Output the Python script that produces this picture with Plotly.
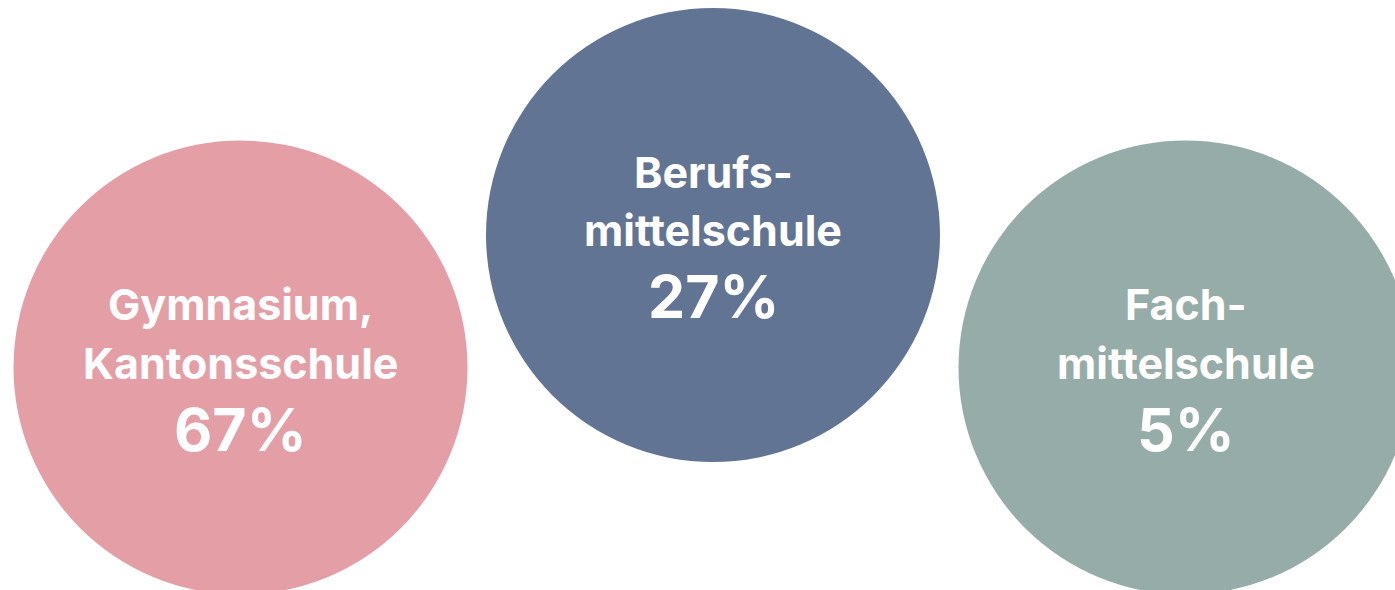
import plotly.graph_objects as go

# Data
line1 = ["Gymnasium,", "Berufs-", "Fach-"]
line2 = ["Kantonsschule", "mittelschule", "mittelschule"]
shares = [67, 27, 5]
colors = ["#E49FA6", "#627493", "#96ACA8"]

# Layout (pixel positions of circle centres)
idx = [0, 1, 2]
y_center = [367.5, 235, 367.5]
diam = 454

fig = go.Figure()
fig.add_trace(go.Scatter(
    x=idx, y=y_center, mode="markers",
    marker=dict(size=diam, color=colors, line=dict(width=0), opacity=1),
    hoverinfo="skip", showlegend=False,
))

FONT = "Inter"
for i in idx:
    fig.add_annotation(x=i, y=y_center[i] - 63.5, text=f"<b>{line1[i]}</b>",
                       showarrow=False, xanchor="center", yanchor="middle",
                       font=dict(family=FONT, size=43, color="white"))
    fig.add_annotation(x=i, y=y_center[i] - 5, text=f"<b>{line2[i]}</b>",
                       showarrow=False, xanchor="center", yanchor="middle",
                       font=dict(family=FONT, size=43, color="white"))
    fig.add_annotation(x=i, y=y_center[i] + 61.5, text=f"<b>{shares[i]}%</b>",
                       showarrow=False, xanchor="center", yanchor="middle",
                       font=dict(family=FONT, size=59, color="white"))

sp = 472.5
x0 = 240.5
fig.update_layout(
    width=1395, height=590,
    margin=dict(l=0, r=0, t=0, b=0),
    paper_bgcolor="white", plot_bgcolor="white",
    xaxis=dict(range=[-x0 / sp, (1395 - x0) / sp], visible=False, fixedrange=True),
    yaxis=dict(range=[590, 0], visible=False, fixedrange=True),
)
fig.write_html("out.html")
